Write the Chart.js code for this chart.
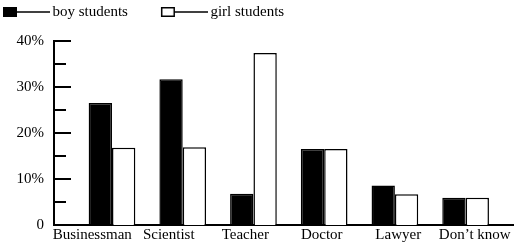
<!DOCTYPE html>
<html>
<head>
    <title>Boy and girl students</title>
    <style>
        body { margin: 0; background: #fff; }
        #chart { width: 522px; height: 244px; }
    </style>
</head>
<body>
    <div id="chart">
        <canvas id="myChart"></canvas>
    </div>
    <script src="https://cdn.jsdelivr.net/npm/chart.js@4/dist/chart.umd.min.js"></script>
    <script>
        const categories = ['Businessman', 'Scientist', 'Teacher', 'Doctor', 'Lawyer', 'Don\u2019t know'];
        const seriesNames = ['boy students', 'girl students'];
        const boyValues = [26.5, 31.7, 6.8, 16.5, 8.6, 5.9];
        const girlValues = [16.8, 16.9, 37.4, 16.5, 6.7, 5.9];
        const yTicks = [0, 5, 10, 15, 20, 25, 30, 35, 40];

        const serif = 'Liberation Serif';

        // legend icon: a little box followed by a line
        function makeIcon(filled) {
            const c = document.createElement('canvas');
            c.width = 52;
            c.height = 12;
            const g = c.getContext('2d');
            g.fillStyle = filled ? '#000' : '#fff';
            g.fillRect(5, 1, 14, 10);
            g.strokeStyle = '#000';
            g.lineWidth = 1.5;
            g.strokeRect(5.75, 1.75, 12.5, 8.5);
            g.beginPath();
            g.moveTo(19, 6);
            g.lineTo(52, 6);
            g.stroke();
            return c;
        }
        const icons = [makeIcon(true), makeIcon(false)];

        // short tick marks drawn inside the plot, along the y axis
        const innerTicks = {
            id: 'innerTicks',
            afterDraw(chart) {
                const ctx = chart.ctx;
                const y = chart.scales.y;
                const left = chart.chartArea.left;
                ctx.save();
                ctx.strokeStyle = '#000';
                ctx.lineWidth = 2;
                ctx.beginPath();
                y.ticks.forEach(t => {
                    if (t.value === 0) return;
                    const py = Math.round(y.getPixelForValue(t.value));
                    const len = t.value % 10 === 0 ? 17 : 12;
                    ctx.moveTo(left, py);
                    ctx.lineTo(left + len, py);
                });
                ctx.stroke();
                ctx.restore();
            }
        };

        const ctx = document.getElementById('myChart').getContext('2d');
        const myChart = new Chart(ctx, {
            type: 'bar',
            data: {
                labels: categories,
                datasets: [{
                    label: seriesNames[0],
                    data: boyValues.map((v, i) => ({ x: i, y: v })),
                    backgroundColor: '#000',
                    borderColor: '#000',
                    borderWidth: 1.5
                }, {
                    label: seriesNames[1],
                    data: girlValues.map((v, i) => ({ x: i, y: v })),
                    backgroundColor: '#fff',
                    borderColor: '#000',
                    borderWidth: 1.5
                }]
            },
            options: {
                responsive: true,
                maintainAspectRatio: false,
                animation: false,
                barPercentage: 1,
                categoryPercentage: 0.66,
                layout: { padding: { left: 0, right: 9, top: 1.5, bottom: 0 } },
                plugins: {
                    tooltip: { enabled: false },
                    legend: {
                        position: 'top',
                        align: 'start',
                        weight: 2500,
                        labels: {
                            usePointStyle: true,
                            pointStyleWidth: 42,
                            padding: 3,
                            color: '#000',
                            font: { family: serif, size: 15 },
                            generateLabels: chart => chart.data.datasets.map((ds, i) => ({
                                text: ds.label + (i === 0 ? '\u2003\u2003' : ''),
                                pointStyle: icons[i],
                                fillStyle: ds.backgroundColor,
                                strokeStyle: '#000',
                                lineWidth: 0,
                                fontColor: '#000',
                                hidden: false,
                                datasetIndex: i
                            }))
                        }
                    },
                    subtitle: {
                        display: true,
                        text: '',
                        font: { size: 1, lineHeight: 1 },
                        padding: { top: 5, bottom: 5.5 }
                    }
                },
                scales: {
                    x: {
                        type: 'linear',
                        display: false,
                        offset: false,
                        min: -0.82,
                        max: 5.67,
                        afterBuildTicks: scale => { scale.ticks = categories.map((c, i) => ({ value: i })); }
                    },
                    xl: {
                        type: 'category',
                        position: 'bottom',
                        labels: categories,
                        offset: true,
                        afterFit: scale => { scale.height = 17; },
                        grid: { display: false, drawTicks: false },
                        border: { display: true, color: '#000', width: 2 },
                        ticks: {
                            padding: 3,
                            color: '#000',
                            maxRotation: 0,
                            autoSkip: false,
                            font: { family: serif, size: 15, lineHeight: 1 }
                        }
                    },
                    y: {
                        min: 0,
                        max: 40,
                        afterBuildTicks: scale => { scale.ticks = yTicks.map(v => ({ value: v })); },
                        afterFit: scale => { scale.width = 54; },
                        grid: { display: false, drawTicks: false },
                        border: { display: true, color: '#000', width: 2 },
                        ticks: {
                            padding: 10,
                            color: '#000',
                            font: { family: serif, size: 15 },
                            callback: v => v % 10 !== 0 ? '' : (v === 0 ? '0' : v + '%')
                        }
                    }
                }
            },
            plugins: [innerTicks]
        });
    </script>
</body>
</html>
